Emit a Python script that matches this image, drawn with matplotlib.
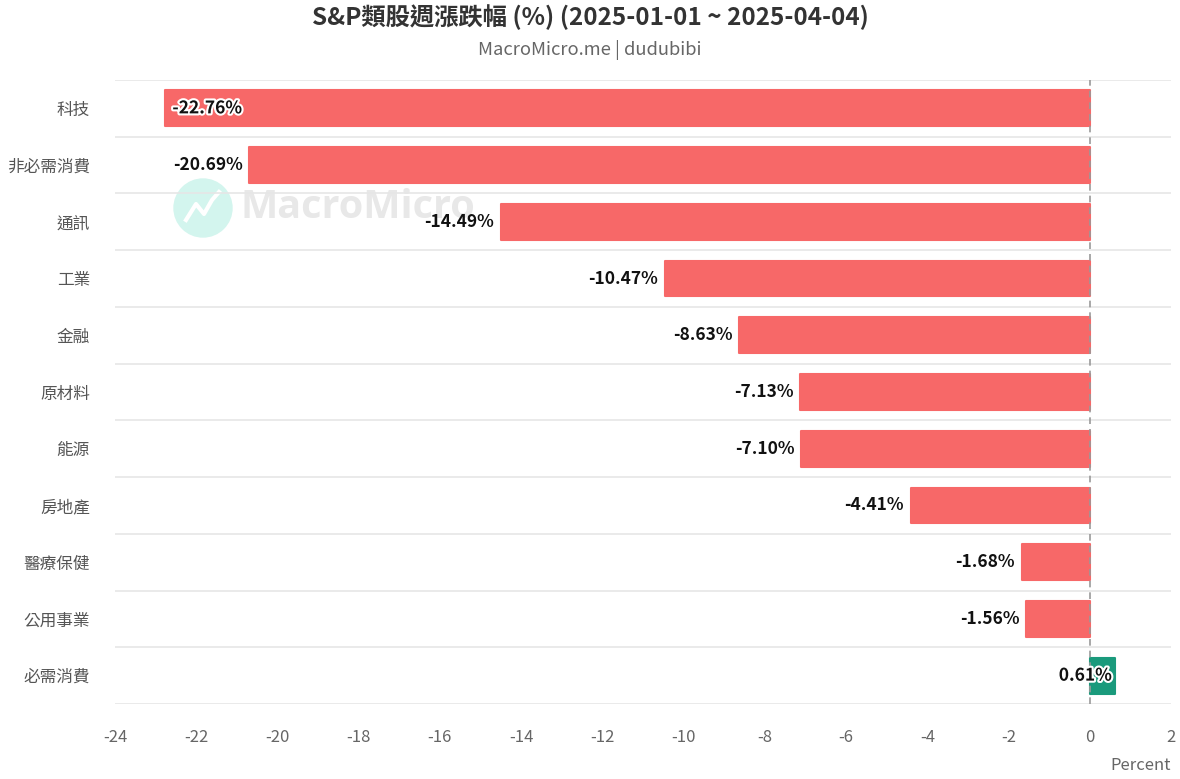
import matplotlib.pyplot as plt
import matplotlib.patheffects as pe
from matplotlib.patches import Ellipse
from matplotlib.lines import Line2D

plt.rcParams['font.family'] = ['Noto Sans CJK TC', 'DejaVu Sans']

# Data
sectors = ['科技', '非必需消費', '通訊', '工業', '金融', '原材料', '能源', '房地產', '醫療保健', '公用事業', '必需消費']
returns = [-22.76, -20.69, -14.49, -10.47, -8.63, -7.13, -7.10, -4.41, -1.68, -1.56, 0.61]
xticks = list(range(-24, 3, 2))

fig = plt.figure(figsize=(11.8, 7.79), dpi=100)
ax = fig.add_axes([115 / 1180, 1 - 704 / 779, 1056 / 1180, 624 / 779])
ax.patch.set_alpha(0)

ypos = list(range(len(sectors)))
colors = ['#f76868' if v < 0 else '#1a9a7c' for v in returns]
ax.barh(ypos, returns, height=0.63, color=colors, edgecolor=colors,
        linewidth=1.5, joinstyle='round', zorder=3)

ax.set_xlim(-24, 2)
ax.set_ylim(len(sectors) - 0.5, -0.5)

# category boundary gridlines
for b in range(len(sectors) + 1):
    ax.axhline(b - 0.5, color='#e6e6e6', lw=1.2, zorder=1)
ax.axvline(0, color='#999999', lw=1.2, ls=(0, (4, 3)), zorder=4)

# data labels
stroke = [pe.withStroke(linewidth=3, foreground='white')]
for y, v in zip(ypos, returns):
    txt = f'{v:.2f}%'
    if v == min(returns):
        ax.annotate(txt, (v, y), xytext=(5, 0), textcoords='offset points',
                    ha='left', va='center', fontsize=12.5, fontweight='bold',
                    color='#111111', path_effects=stroke, zorder=5)
    elif v < 0:
        ax.annotate(txt, (v, y), xytext=(-5, 0), textcoords='offset points',
                    ha='right', va='center', fontsize=12.5, fontweight='bold',
                    color='#111111', zorder=5)
    else:
        ax.annotate(txt, (v, y), xytext=(-2, 0), textcoords='offset points',
                    ha='right', va='center', fontsize=12.5, fontweight='bold',
                    color='#111111', path_effects=stroke, zorder=5)

ax.set_yticks(ypos)
ax.set_yticklabels(sectors, fontsize=12, color='#555555')
ax.set_xticks(xticks)
ax.set_xticklabels([str(t) for t in xticks], fontsize=12, color='#666666')
ax.tick_params(length=0)
ax.tick_params(axis='x', pad=18)
ax.tick_params(axis='y', pad=18)
for s in ax.spines.values():
    s.set_visible(False)

fig.text(1171 / 1180, 1 - 765 / 779, 'Percent', ha='right', va='center',
         fontsize=12, color='#666666')

fig.text(0.5, 1 - 17 / 779, 'S&P類股週漲跌幅 (%) (2025-01-01 ~ 2025-04-04)',
         ha='center', va='center', fontsize=17.5, fontweight='bold', color='#333333')
fig.text(0.5, 1 - 50 / 779, 'MacroMicro.me | dudubibi', ha='center', va='center',
         fontsize=13.2, color='#666666')

# watermark (behind the axes)
fig.patches.append(Ellipse((203 / 1180, 1 - 208 / 779), 58 / 1180, 58 / 779,
                           transform=fig.transFigure, color='#d3f5ee', zorder=-2))
logo_x = [186, 196, 204, 212, 219]
logo_y = [220, 204, 214, 200, 192]
fig.lines.append(Line2D([x / 1180 for x in logo_x], [1 - y / 779 for y in logo_y],
                        transform=fig.transFigure, color='white', lw=3,
                        solid_joinstyle='round', zorder=-1))
fig.text(240 / 1180, 1 - 208 / 779, 'MacroMicro', ha='left', va='center',
         fontsize=28.5, fontweight='bold', color='#e8e8e8', zorder=-2,
         family=['Open Sans', 'DejaVu Sans'])

fig.savefig('out.png', dpi=100)
